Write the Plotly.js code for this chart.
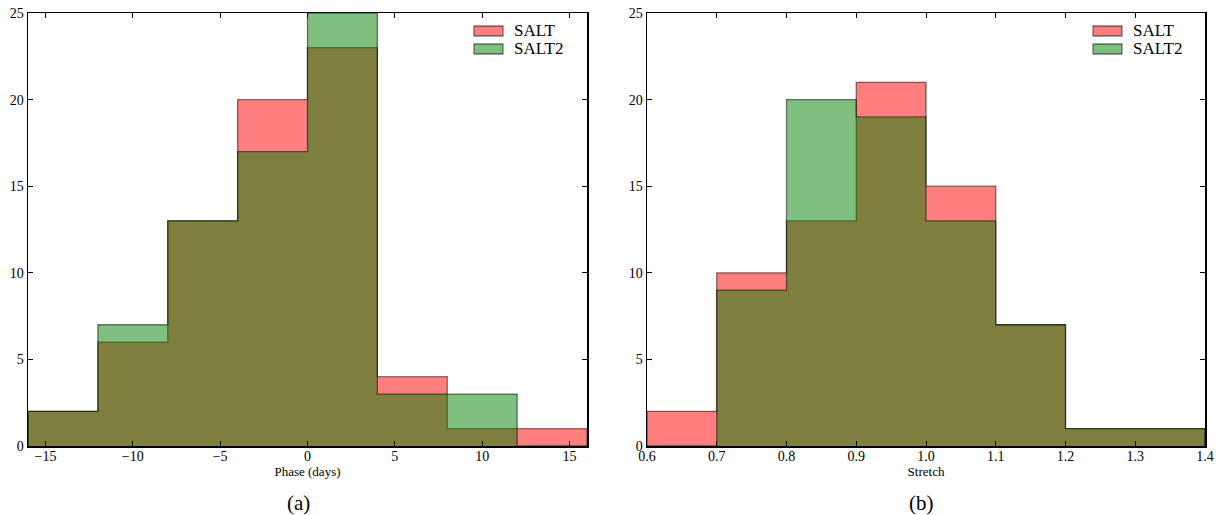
<!DOCTYPE html>
<html><head><meta charset="utf-8">
<script src="https://cdn.plot.ly/plotly-3.0.1.min.js"></script>
<style>body{margin:0;background:#fff}#chart{width:1222px;height:515px}</style>
</head><body><div id="chart"></div>
<script>
// Panel (a): Phase (days)
const phaseEdges = [-16, -12, -8, -4, 0, 4, 8, 12, 16];
const phaseSALT  = [2, 6, 13, 20, 23, 4, 1, 1];
const phaseSALT2 = [2, 7, 13, 17, 25, 3, 3, 0];
// Panel (b): Stretch
const stretchEdges = [0.6, 0.7, 0.8, 0.9, 1.0, 1.1, 1.2, 1.3, 1.4];
const stretchSALT  = [2, 10, 13, 21, 15, 7, 1, 1];
const stretchSALT2 = [0, 9, 20, 19, 13, 7, 1, 1];
const seriesNames = ['SALT', 'SALT2'];
const phaseTicks = [-15, -10, -5, 0, 5, 10, 15];
const stretchTicks = [0.6, 0.7, 0.8, 0.9, 1.0, 1.1, 1.2, 1.3, 1.4];
const yTicks = [0, 5, 10, 15, 20, 25];

const FONT = '"Liberation Serif", "DejaVu Serif", serif';
const fills = ['rgba(255,0,0,0.5)', 'rgba(0,128,0,0.5)'];
const edge = 'rgba(0,0,0,0.5)';

// step-filled histogram outline (no inner dividers), like histtype='stepfilled'
function stepHist(edges, vals, idx, xa, ya) {
  return {
    type: 'scatter', mode: 'lines',
    x: [edges[0]].concat(edges), y: [0].concat(vals, [0]),
    line: {shape: 'hv', color: edge, width: 1.3},
    fill: 'tozeroy', fillcolor: fills[idx],
    name: seriesNames[idx], xaxis: xa, yaxis: ya, showlegend: false, hoverinfo: 'skip'
  };
}

const data = [
  stepHist(phaseEdges, phaseSALT, 0, 'x', 'y'),
  stepHist(phaseEdges, phaseSALT2, 1, 'x', 'y'),
  stepHist(stretchEdges, stretchSALT, 0, 'x2', 'y2'),
  stepHist(stretchEdges, stretchSALT2, 1, 'x2', 'y2')
];

const W = 1222, H = 515;
const yDom = [1 - 446 / H, 1 - 13 / H];
const axBase = {
  showgrid: false, zeroline: false, showline: true, linecolor: '#000', linewidth: 1.5,
  mirror: 'ticks', ticks: 'inside', ticklen: 5, tickwidth: 1, tickcolor: '#000',
  tickfont: {family: FONT, size: 14, color: '#000'}
};

// legend boxes (drawn like matplotlib's legend patches)
const shapes = [], annotations = [];
function legend(x0) {
  seriesNames.forEach((n, i) => {
    const yc = 31 + i * 18;
    shapes.push({type: 'rect', xref: 'paper', yref: 'paper',
      x0: x0 / W, x1: (x0 + 29) / W, y0: 1 - (yc + 5) / H, y1: 1 - (yc - 5) / H,
      fillcolor: fills[i], line: {color: edge, width: 1.3}});
    annotations.push({text: n, xref: 'paper', yref: 'paper', x: (x0 + 38) / W, y: 1 - yc / H,
      xanchor: 'left', yanchor: 'middle', showarrow: false,
      font: {family: FONT, size: 17, color: '#000'}});
  });
}
legend(474);
legend(1093);
annotations.push(
  {text: '(a)', x: 298 / W, y: 1 - 503 / H, xref: 'paper', yref: 'paper', showarrow: false,
   xanchor: 'center', yanchor: 'middle', font: {family: FONT, size: 21, color: '#000'}},
  {text: '(b)', x: 921 / W, y: 1 - 503 / H, xref: 'paper', yref: 'paper', showarrow: false,
   xanchor: 'center', yanchor: 'middle', font: {family: FONT, size: 21, color: '#000'}}
);

const layout = {
  width: W, height: H, margin: {l: 0, r: 0, t: 0, b: 0},
  paper_bgcolor: '#fff', plot_bgcolor: '#fff', showlegend: false,
  font: {family: FONT, color: '#000'},
  xaxis: Object.assign({}, axBase, {domain: [28 / W, 587 / W], range: [-16, 16],
    tickvals: phaseTicks, anchor: 'y', ticklabelstandoff: -3,
    title: {text: 'Phase (days)', font: {family: FONT, size: 13}, standoff: 0}}),
  yaxis: Object.assign({}, axBase, {domain: yDom, range: [0, 25], tickvals: yTicks, anchor: 'x'}),
  xaxis2: Object.assign({}, axBase, {domain: [647 / W, 1205 / W], range: [0.6, 1.4],
    tickvals: stretchTicks, tickformat: '.1f', anchor: 'y2', ticklabelstandoff: -3,
    title: {text: 'Stretch', font: {family: FONT, size: 13}, standoff: 0}}),
  yaxis2: Object.assign({}, axBase, {domain: yDom, range: [0, 25], tickvals: yTicks, anchor: 'x2'}),
  shapes: shapes,
  annotations: annotations
};

Plotly.newPlot('chart', data, layout, {displayModeBar: false, staticPlot: true});
</script></body></html>
